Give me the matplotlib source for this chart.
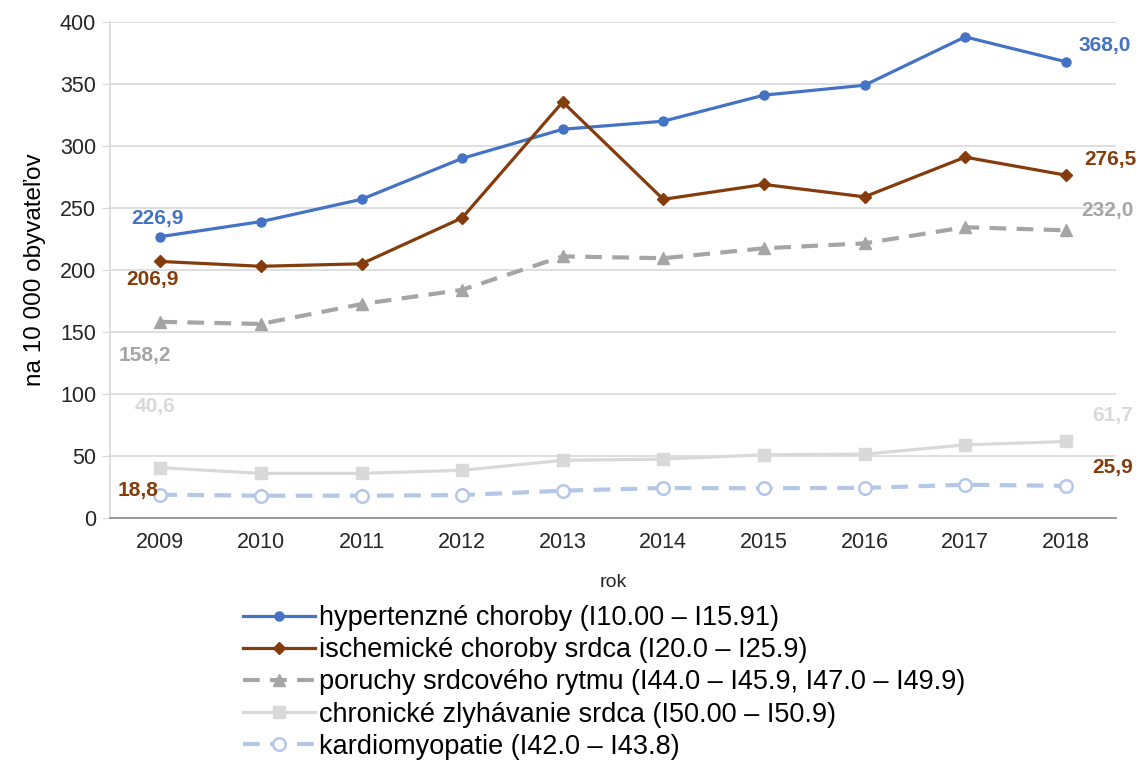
import matplotlib
matplotlib.use("Agg")
import matplotlib.pyplot as plt

plt.rcParams['font.family'] = ['Liberation Sans', 'DejaVu Sans']

# data (per 10 000 inhabitants)
years = [2009, 2010, 2011, 2012, 2013, 2014, 2015, 2016, 2017, 2018]
hypertenzne = [226.9, 239, 257, 290, 313.5, 320, 341, 349, 388, 368.0]
ischemicke = [206.9, 203, 205, 242, 335.5, 257, 269, 259, 291, 276.5]
poruchy_rytmu = [158.2, 156.5, 172.5, 184, 211, 209.5, 217.5, 221.5, 234.5, 232.0]
zlyhavanie = [40.6, 36, 36, 38.5, 46.5, 47.5, 51, 51.5, 59, 61.7]
kardiomyopatie = [18.8, 18, 18, 18.5, 22, 24.2, 24, 24.3, 26.8, 25.9]

labels = [
    "hypertenzné choroby (I10.00 – I15.91)",
    "ischemické choroby srdca (I20.0 – I25.9)",
    "poruchy srdcového rytmu (I44.0 – I45.9, I47.0 – I49.9)",
    "chronické zlyhávanie srdca (I50.00 – I50.9)",
    "kardiomyopatie (I42.0 – I43.8)",
]

BLUE = "#4472C4"
BROWN = "#843C0C"
GRAY = "#A5A5A5"
LIGHT = "#D9D9D9"
LBLUE = "#B4C7E7"

fig = plt.figure(figsize=(11.38, 7.66), dpi=100)
ax = fig.add_axes([110 / 1138, 1 - 518 / 766, (1116 - 110) / 1138, (518 - 22) / 766])

x = list(range(len(years)))
ax.plot(x, hypertenzne, color=BLUE, lw=2.3, marker="o", ms=6.5, label=labels[0], zorder=5)
ax.plot(x, ischemicke, color=BROWN, lw=2.3, marker="D", ms=6, label=labels[1], zorder=5)
ax.plot(x, poruchy_rytmu, color=GRAY, lw=3, ls=(0, (4, 2.5)), marker="^", ms=8,
        label=labels[2], zorder=4)
ax.plot(x, zlyhavanie, color=LIGHT, lw=2.3, marker="s", ms=8, label=labels[3], zorder=3)
ax.plot(x, kardiomyopatie, color=LBLUE, lw=3, ls=(0, (4, 2.5)), marker="o", ms=9,
        mfc="white", mec=LBLUE, mew=1.8, label=labels[4], zorder=3)

ax.set_xlim(-0.5, len(years) - 0.5)
ax.set_ylim(0, 400)
ax.set_yticks(range(0, 401, 50))
ax.set_xticks(x)
ax.set_xticklabels([str(y) for y in years])
ax.tick_params(axis="y", length=6, color=LIGHT, labelsize=15.5, labelcolor="#262626", pad=4)
ax.tick_params(axis="x", length=0, labelsize=15.5, labelcolor="#262626", pad=10)
ax.grid(axis="y", color=LIGHT, lw=1.2)
ax.set_axisbelow(True)
for s in ["top", "right"]:
    ax.spines[s].set_visible(False)
ax.spines["left"].set_color(LIGHT)
ax.spines["left"].set_linewidth(1.2)
ax.spines["bottom"].set_color("#8C8C8C")
ax.spines["bottom"].set_linewidth(1.2)

ax.set_ylabel("na 10 000 obyvateľov", fontsize=17.5, color="black", labelpad=10)
ax.set_xlabel("rok", fontsize=14, color="#262626", labelpad=15)

# value labels (offsets in points)
def lab(series, i, text, color, dx, dy):
    ax.annotate(text, (x[i], series[i]), xytext=(dx, dy), textcoords="offset points",
                ha="center", va="center", fontsize=15, fontweight="bold", color=color,
                annotation_clip=False)

lab(hypertenzne, 0, "226,9", BLUE, -2, 13)
lab(ischemicke, 0, "206,9", BROWN, -6, -13)
lab(poruchy_rytmu, 0, "158,2", GRAY, -11, -24)
lab(zlyhavanie, 0, "40,6", LIGHT, -4, 44)
lab(kardiomyopatie, 0, "18,8", BROWN, -16, 3)
lab(hypertenzne, 9, "368,0", BLUE, 28, 12)
lab(ischemicke, 9, "276,5", BROWN, 32, 11)
lab(poruchy_rytmu, 9, "232,0", GRAY, 30, 14)
lab(zlyhavanie, 9, "61,7", LIGHT, 34, 19)
lab(kardiomyopatie, 9, "25,9", BROWN, 34, 13)

fig.legend(loc="upper left", bbox_to_anchor=(243 / 1138, 1 - 605 / 766), frameon=False,
           fontsize=19.5, handlelength=2.65, handletextpad=0.15, labelspacing=0.23,
           borderpad=0, borderaxespad=0)

fig.savefig("out.png", dpi=100)
